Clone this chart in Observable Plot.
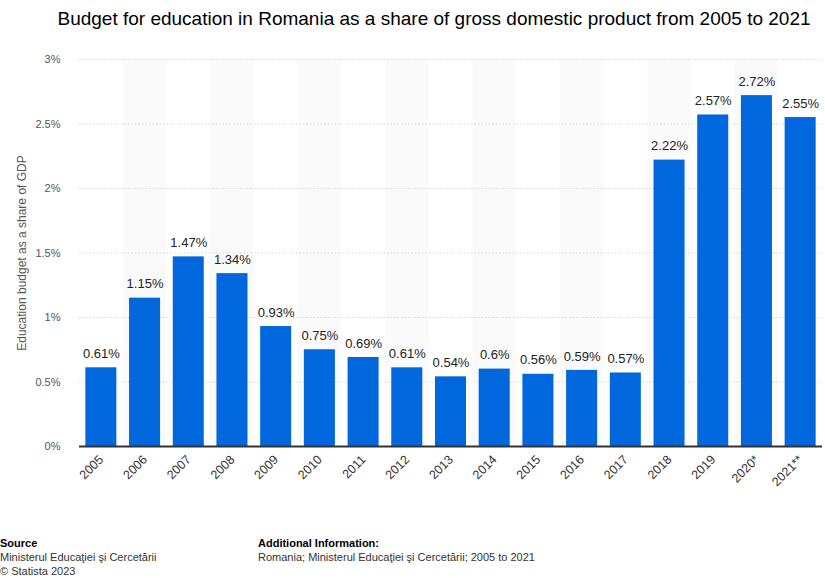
<!DOCTYPE html>
<html>
<head>
<meta charset="utf-8">
<script src="https://cdn.jsdelivr.net/npm/d3@7"></script>
<script src="https://cdn.jsdelivr.net/npm/@observablehq/plot@0.6"></script>
<style>
  body { margin: 0; background: #fff; font-family: "Liberation Sans", Arial, sans-serif; }
  #wrap { width: 825px; height: 578px; position: relative; overflow: hidden; }
  #title { position: absolute; left: 0; top: 8px; width: 868px; text-align: center; font-size: 19px; line-height: 22px; color: #000; }
  #chart { position: absolute; left: 0; top: 40px; }
  .foot { position: absolute; top: 536px; font-size: 11px; line-height: 14px; color: #333; }
  .foot b { color: #000; font-weight: bold; }
</style>
</head>
<body>
<div id="wrap">
  <div id="title">Budget for education in Romania as a share of gross domestic product from 2005 to 2021</div>
  <div id="chart"></div>
  <div class="foot" style="left:0"><b>Source</b><br>Ministerul Educaţiei şi Cercetării<br>© Statista 2023</div>
  <div class="foot" style="left:258px"><b>Additional Information:</b><br>Romania; Ministerul Educaţiei şi Cercetării; 2005 to 2021</div>
</div>
<script>
const years = ["2005","2006","2007","2008","2009","2010","2011","2012","2013","2014","2015","2016","2017","2018","2019","2020*","2021**"];
const values = [0.61,1.15,1.47,1.34,0.93,0.75,0.69,0.61,0.54,0.6,0.56,0.59,0.57,2.22,2.57,2.72,2.55];
const yTicks = [0,0.5,1,1.5,2,2.5,3];
const yTickLabels = ["0%","0.5%","1%","1.5%","2%","2.5%","3%"];

const data = years.map((y, i) => ({year: y, value: values[i], label: values[i] + "%"}));
const shaded = years.filter((y, i) => i % 2 === 1).map(y => ({year: y}));

const chart = Plot.plot({
  width: 825,
  height: 468,
  marginLeft: 79,
  marginRight: 3,
  marginTop: 19,
  marginBottom: 62,
  style: { fontFamily: "Liberation Sans, Arial, sans-serif", fontSize: "11px", color: "#555" },
  x: { domain: years, paddingInner: 0.29, paddingOuter: 0.145, align: 0.5, round: false, label: null, tickSize: 0, tickPadding: 11, tickRotate: -45 },
  y: { domain: [0, 3], ticks: yTicks, tickFormat: (d) => yTickLabels[yTicks.indexOf(d)], label: "Education budget as a share of GDP", labelAnchor: "center", labelArrow: "none", labelOffset: 62, tickSize: 0, tickPadding: 19 },
  marks: [
    Plot.barY(shaded, { x: "year", y1: 0, y2: 3, fill: "#fafafa", insetLeft: -6.3, insetRight: -6.3 }),
    Plot.gridY(yTicks, { stroke: "#d8d8d8", strokeOpacity: 1, strokeDasharray: "1.5,2" }),
    Plot.barY(data, { x: "year", y: "value", fill: "#0067dc" }),
    Plot.text(data, { x: "year", y: "value", text: "label", dy: -14, fontSize: 13, fill: "#222" }),
    Plot.ruleY([0], { stroke: "#333", strokeWidth: 2 })
  ]
});
chart.querySelectorAll('[aria-label="x-axis tick label"] text').forEach(t => { t.setAttribute("font-size", "12.5px"); t.setAttribute("fill", "#333"); });
chart.querySelectorAll('[aria-label="y-axis label"] text').forEach(t => { t.setAttribute("font-size", "12px"); });
document.getElementById("chart").appendChild(chart);
</script>
</body>
</html>
